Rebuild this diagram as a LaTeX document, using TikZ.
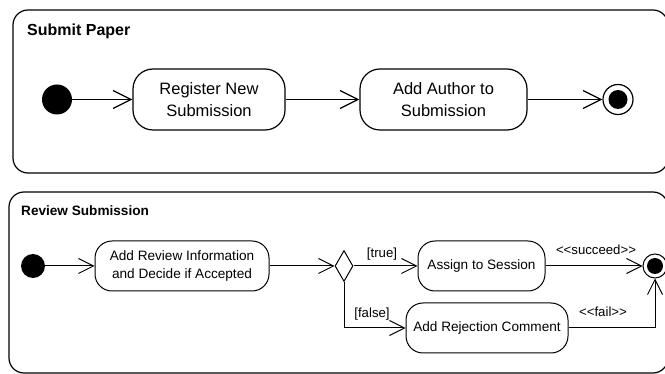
\documentclass[tikz,border=0pt]{standalone}
\usepackage{fontspec}
\setmainfont{Liberation Sans}
\usetikzlibrary{arrows.meta,shapes.geometric}
\begin{document}
\begin{tikzpicture}[x=1pt,y=-1pt,
  frame/.style={draw, line width=1.2pt, rounded corners=15pt, inner sep=0pt},
  ftitleA/.style={anchor=base west, inner sep=0pt, font=\bfseries\fontsize{16}{19}\selectfont},
  ftitleB/.style={anchor=base west, inner sep=0pt, font=\bfseries\fontsize{13.6}{16}\selectfont},
  actA/.style={draw, line width=1.2pt, rounded corners=20pt, minimum height=61pt,
               align=center, inner sep=0pt, font=\fontsize{16.5}{22}\selectfont},
  actB/.style={draw, line width=1pt, rounded corners=17pt, minimum height=50pt,
               align=center, inner sep=0pt, font=\fontsize{13.6}{18}\selectfont},
  startnode/.style={circle, fill=black, inner sep=0pt},
  endring/.style={circle, draw, fill=white, inner sep=0pt},
  enddot/.style={circle, fill=black, inner sep=0pt},
  decision/.style={diamond, draw, line width=1pt, inner sep=0pt,
                   minimum width=18pt, minimum height=31pt},
  flowA/.style={line width=1.2pt, -{Straight Barb[length=18pt,width=18pt]}},
  flowB/.style={line width=1pt, -{Straight Barb[length=15pt,width=15pt]}},
  guard/.style={anchor=base, inner sep=0pt, font=\fontsize{13.2}{16}\selectfont}]
\clip (0,0) rectangle (665,374);
\useasboundingbox (0,0) rectangle (665,374);

% ---- Submit Paper activity ----
\node[frame, minimum width=655pt, minimum height=163pt] (fsubmit) at (340.5,91.5) {};
\node[ftitleA] (tsubmit) at (27,36) {Submit Paper};

\node[startnode, minimum size=30pt] (s1) at (57,99.5) {};
\node[actA, minimum width=152pt] (reg) at (209,99.5) {Register New\\Submission};
\node[actA, minimum width=167pt] (auth) at (443.5,99.5) {Add Author to\\Submission};
\node[endring, line width=1.2pt, minimum size=30pt] (e1) at (618,99.5) {};
\node[enddot, minimum size=19pt] (e1dot) at (e1) {};

\draw[flowA] (s1) -- (reg);
\draw[flowA] (reg) -- (auth);
\draw[flowA] (auth) -- (e1);

% ---- Review Submission activity ----
\node[frame, minimum width=659pt, minimum height=181pt] (freview) at (338.5,282.5) {};
\node[ftitleB] (treview) at (21,216) {Review Submission};

\node[startnode, minimum size=24pt] (s2) at (33,266) {};
\node[actB, minimum width=174pt] (review) at (182,266) {Add Review Information\\and Decide if Accepted};
\node[decision] (dec) at (344,266) {};
\node[actB, minimum width=127pt] (assign) at (481.5,266) {Assign to Session};
\node[actB, minimum width=162pt] (reject) at (487,328) {Add Rejection Comment};
\node[endring, line width=1pt, minimum size=24pt] (e2) at (655,266) {};
\node[enddot, minimum size=16pt] (e2dot) at (e2) {};

\draw[flowB] (s2) -- (review);
\draw[flowB] (review) -- (dec);
\draw[flowB] (dec) -- (assign);
\draw[flowB] (assign) -- (e2);
\draw[flowB] (dec.south) |- (reject.west);
\draw[flowB] (reject.east) -| (e2.south);

\node[guard] (gtrue) at (382,258) {[true]};
\node[guard] (gfalse) at (372,318) {[false]};
\node[guard] (gsucceed) at (596,255) {<\kern0pt<succeed>\kern0pt>};
\node[guard] (gfail) at (603,317) {<\kern0pt<fail>\kern0pt>};
\end{tikzpicture}
\end{document}
